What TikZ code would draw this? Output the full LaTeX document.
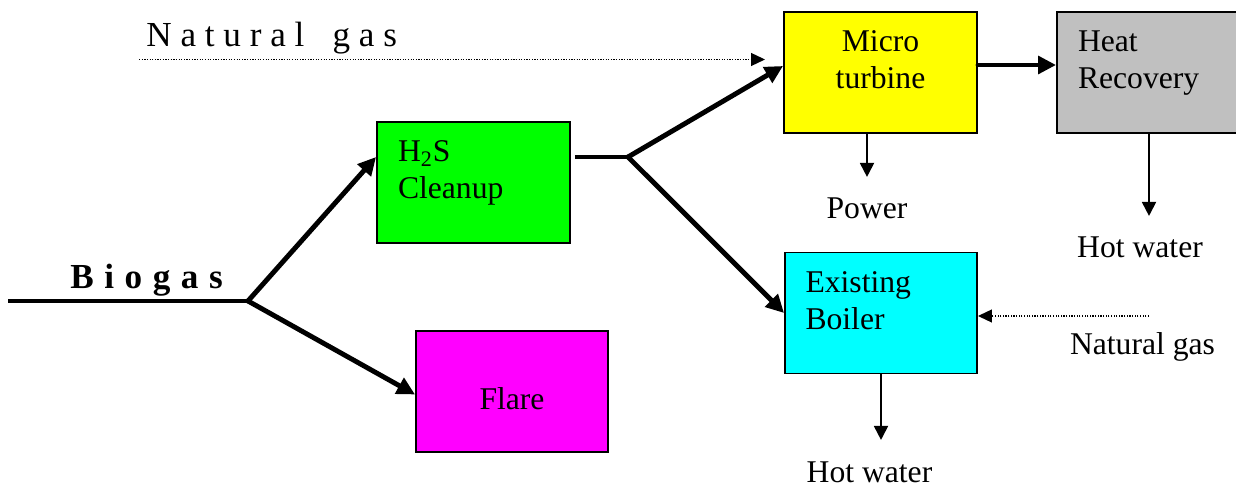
\documentclass[tikz,border=0pt]{standalone}
\usepackage{fontspec}
\setmainfont{Liberation Serif}
\newfontfamily\spacedfont[LetterSpace=25]{Liberation Serif}
\newfontfamily\spacedbold[LetterSpace=30]{Liberation Serif Bold}
\usetikzlibrary{arrows.meta,positioning}

\definecolor{turbineyellow}{RGB}{255,255,0}
\definecolor{recoverygrey}{RGB}{192,192,192}
\definecolor{cleanupgreen}{RGB}{0,255,0}
\definecolor{boilercyan}{RGB}{0,255,255}
\definecolor{flaremagenta}{RGB}{255,0,255}

\tikzset{
  block/.style={draw, line width=1.1pt, minimum width=3.86cm, minimum height=2.42cm,
    inner sep=0pt, text width=3.02cm, align=left, text height=0.45cm, text depth=1.27cm},
  pipe/.style={line width=2.8pt},
  feed/.style={pipe, line cap=round, -{Triangle[length=0.36cm,width=0.35cm]}},
  product/.style={line width=1.1pt, shorten >=0.42cm, -{Triangle[length=0.28cm,width=0.28cm]}},
  gasline/.style={line width=0.7pt, dash pattern=on 0.7pt off 0.8pt, -{Triangle[length=0.28cm,width=0.26cm]}},
  tag/.style={inner sep=0pt, anchor=base},
}

\begin{document}
\begin{tikzpicture}[font=\fontsize{18}{21}\selectfont]
  \useasboundingbox (0,0) rectangle (24.72,9.76);

  % process units
  \node[block, fill=turbineyellow, align=center] (turbine) at (17.61,8.31) {Micro\\turbine};
  \node[block, fill=recoverygrey, minimum width=3.68cm, text width=2.84cm] (recovery) at (22.98,8.31) {Heat\\Recovery};
  \node[block, fill=cleanupgreen] (cleanup) at (9.47,6.11) {H\textsubscript{2}S\\Cleanup};
  \node[block, fill=boilercyan, minimum width=3.84cm] (boiler) at (17.62,3.50) {Existing\\Boiler};
  \node[block, fill=flaremagenta, minimum width=3.84cm, align=center, text height=0.74cm, text depth=0pt] (flare) at (10.24,1.93) {Flare};

  % streams in and out
  \node[tag, anchor=base west] (biogas) at (1.40,3.98) {\fontsize{20}{24}\spacedbold Biogas};
  \node[tag, anchor=base west] (gastop) at (2.92,8.82) {\fontsize{20}{24}\spacedfont Natural\ \hspace{0.3em}gas};
  \node[tag] (gasright) at (22.85,2.66) {Natural gas};
  \node[tag] (power) at (17.34,5.38) {Power};
  \node[tag] (water1) at (22.80,4.60) {Hot water};
  \node[tag] (water2) at (17.39,0.12) {Hot water};

  \coordinate (inlet) at (0.16,3.74);
  \coordinate (split) at (4.96,3.74);
  \coordinate (fork) at (12.56,6.62);
  \coordinate (gasfeed) at (2.78,8.57);
  \coordinate (gasfeedend) at (15.30,8.57);
  \coordinate (gasboiler) at (22.98,3.44);

  % biogas path
  \draw[pipe] (inlet) -- (split);
  \draw[feed] (split) -- ([yshift=0.51cm]cleanup.west);
  \draw[feed] (split) -- ([yshift=-0.06cm]flare.west);
  \draw[pipe] ([xshift=0.08cm]cleanup.east |- fork) -- (fork);
  \draw[feed] (fork) -- ([yshift=0.13cm]turbine.west);
  \draw[feed] (fork) -- (boiler.west);
  \draw[feed] ([yshift=0.15cm]turbine.east) -- ([yshift=0.15cm]recovery.west);

  % natural gas backup
  \draw[gasline] (gasfeed) -- (gasfeedend);
  \draw[gasline] (gasboiler) -- ([yshift=-0.06cm]boiler.east);

  % products
  \draw[product] (turbine.south -| power) -- (power.north);
  \draw[product] (recovery.south) -- (recovery.south |- water1.north);
  \draw[product] (boiler.south) -- (boiler.south |- water2.north);
\end{tikzpicture}
\end{document}
